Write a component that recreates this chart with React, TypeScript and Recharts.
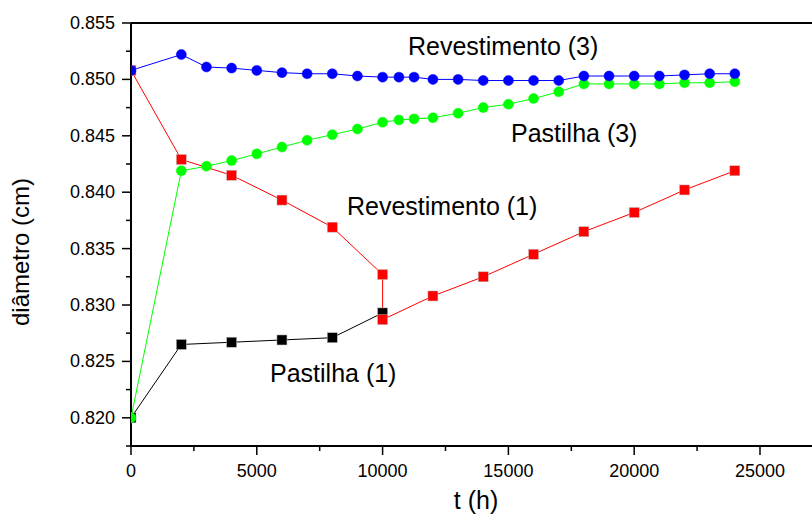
import { LineChart, Line, XAxis, YAxis, ReferenceLine } from "recharts";

// time (h) for the "(3)" runs
const tSerie3 = [0, 2000, 3000, 4000, 5000, 6000, 7000, 8000, 9000, 10000, 10650, 11250, 12000, 13000, 14000, 15000, 16000, 17000, 18000, 19000, 20000, 21000, 22000, 23000, 24000];
const revestimento3 = [0.8508, 0.8522, 0.8511, 0.851, 0.8508, 0.8506, 0.8505, 0.8505, 0.8503, 0.8502, 0.8502, 0.8502, 0.85, 0.85, 0.8499, 0.8499, 0.8499, 0.8499, 0.8503, 0.8503, 0.8503, 0.8503, 0.8504, 0.8505, 0.8505];
const pastilha3 = [0.82, 0.8419, 0.8423, 0.8428, 0.8434, 0.844, 0.8446, 0.8451, 0.8456, 0.8462, 0.8464, 0.8465, 0.8466, 0.847, 0.8475, 0.8478, 0.8483, 0.8489, 0.8496, 0.8496, 0.8496, 0.8496, 0.8497, 0.8497, 0.8498];

// "(1)" runs
const tRevestimento1 = [0, 2000, 4000, 6000, 8000, 10000, 10000, 12000, 14000, 16000, 18000, 20000, 22000, 24000];
const revestimento1 = [0.8508, 0.8429, 0.8415, 0.8393, 0.8369, 0.8327, 0.8287, 0.8308, 0.8325, 0.8345, 0.8365, 0.8382, 0.8402, 0.8419];
const tPastilha1 = [0, 2000, 4000, 6000, 8000, 10000];
const pastilha1 = [0.82, 0.8265, 0.8267, 0.8269, 0.8271, 0.8293];

const xTicks = [0, 2500, 5000, 7500, 10000, 12500, 15000, 17500, 20000, 22500, 25000];
const yTicks = [0.8175, 0.82, 0.8225, 0.825, 0.8275, 0.83, 0.8325, 0.835, 0.8375, 0.84, 0.8425, 0.845, 0.8475, 0.85, 0.8525, 0.855];

const zip = (t: number[], v: number[]) => t.map((x, i) => ({ t: x, v: v[i] }));

const FONT = "'Liberation Sans', Arial, sans-serif";

const isMajor = (v: number, step: number) => Math.abs(v / step - Math.round(v / step)) < 1e-6;

function YTick(props: any) {
  const { x, y, payload } = props;
  const major = isMajor(payload.value, 0.005);
  return (
    <g>
      <line x1={x - (major ? 9 : 5)} x2={x} y1={y} y2={y} stroke="#000" strokeWidth={1.5} />
      {major && (
        <text x={x - 16} y={y} textAnchor="end" dominantBaseline="central" fontSize={18} fontFamily={FONT} fill="#000">
          {payload.value.toFixed(3)}
        </text>
      )}
    </g>
  );
}

function XTick(props: any) {
  const { x, y, payload } = props;
  const major = isMajor(payload.value, 5000);
  return (
    <g>
      <line x1={x} x2={x} y1={y} y2={y + (major ? 9 : 5)} stroke="#000" strokeWidth={1.5} />
      {major && (
        <text x={x} y={y + 25} textAnchor="middle" dominantBaseline="central" fontSize={18} fontFamily={FONT} fill="#000">
          {payload.value}
        </text>
      )}
    </g>
  );
}

function Square(props: any) {
  const { cx, cy, fill } = props;
  if (cx == null || cy == null) return null;
  return <rect x={cx - 5} y={cy - 5} width={10} height={10} fill={fill} stroke="#bbb" strokeWidth={0.5} />;
}

export default function App() {
  return (
    <div style={{ position: "absolute", left: 0, top: 0, width: 812, height: 516, background: "#fff" }}>
      <LineChart width={812} height={516} margin={{ top: 23, right: 0, bottom: 0, left: 0 }}>
        <XAxis
          type="number"
          dataKey="t"
          domain={[0, 27067]}
          ticks={xTicks}
          interval={0}
          height={70}
          tickSize={0}
          tickMargin={0}
          tickLine={false}
          tick={<XTick />}
          axisLine={{ stroke: "#000", strokeWidth: 2 }}
          allowDataOverflow
        />
        <YAxis
          type="number"
          domain={[0.8175, 0.855]}
          ticks={yTicks}
          interval={0}
          width={131}
          tickSize={0}
          tickMargin={0}
          tickLine={false}
          tick={<YTick />}
          axisLine={{ stroke: "#000", strokeWidth: 2 }}
          allowDataOverflow
        />
        <ReferenceLine y={0.855} stroke="#000" strokeWidth={2} />
        <Line
          data={zip(tPastilha1, pastilha1)}
          dataKey="v"
          stroke="#000"
          strokeWidth={1}
          dot={<Square fill="#000" />}
          isAnimationActive={false}
        />
        <Line
          data={zip(tRevestimento1, revestimento1)}
          dataKey="v"
          stroke="#ff0000"
          strokeWidth={1}
          dot={<Square fill="#ff0000" />}
          isAnimationActive={false}
        />
        <Line
          data={zip(tSerie3, pastilha3)}
          dataKey="v"
          stroke="#00ff00"
          strokeWidth={1}
          dot={{ r: 5, fill: "#00ff00", stroke: "#00ff00", strokeWidth: 0.5 }}
          isAnimationActive={false}
        />
        <Line
          data={zip(tSerie3, revestimento3)}
          dataKey="v"
          stroke="#0000ff"
          strokeWidth={1}
          dot={{ r: 5, fill: "#0000ff", stroke: "#0000ff", strokeWidth: 0.5 }}
          isAnimationActive={false}
        />
      </LineChart>
      <svg width={812} height={516} style={{ position: "absolute", left: 0, top: 0, pointerEvents: "none" }}>
        <g fontFamily={FONT} fontSize={25} fill="#000">
          <text x={408} y={55}>Revestimento (3)</text>
          <text x={511} y={141.5}>Pastilha (3)</text>
          <text x={347} y={215}>Revestimento (1)</text>
          <text x={270} y={381.5}>Pastilha (1)</text>
          <text x={476} y={509} textAnchor="middle">t (h)</text>
          <text x={0} y={0} fontSize={24} textAnchor="middle" transform="translate(29 252) rotate(-90)">
            diâmetro (cm)
          </text>
        </g>
      </svg>
    </div>
  );
}
